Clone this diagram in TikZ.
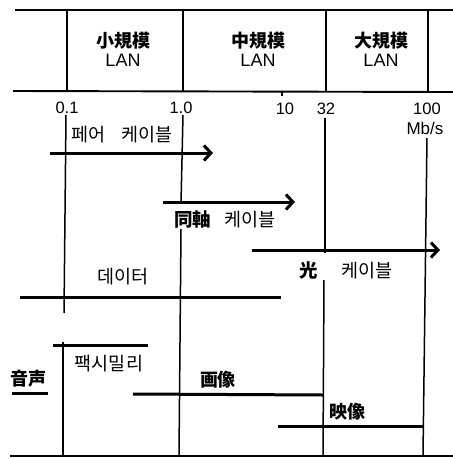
\documentclass[tikz,border=0pt]{standalone}
\usepackage{fontspec}
\setmainfont{Liberation Sans}
\newfontfamily\kr{Noto Sans CJK KR}
\newfontfamily\jp{Noto Sans CJK JP}
\usetikzlibrary{arrows.meta}

\begin{document}
\begin{tikzpicture}[x=1pt,y=-1pt,
		rule/.style={line width=1.5pt},
		frame/.style={line width=1.9pt},
		band/.style={line width=3pt},
		cable/.style={band,-{Straight Barb[length=7pt,width=15pt]}},
		num/.style={font=\fontsize{16.5}{18}\selectfont},
		kana/.style={font=\fontsize{18.5}{20}\selectfont\kr},
		kanji/.style={font=\fontsize{18}{20}\selectfont\jp\bfseries}]
	\useasboundingbox (0,0) rectangle (453,459);

	% LAN header
	\draw [frame] (15,10) to (453,10);
	\draw [frame] (13,91) to (453,92);
	\foreach \x in {67,183,326,428}
		\draw [rule] (\x,10) to (\x,91);
	\node [align=center,font=\fontsize{18}{19}\selectfont] (small) at (123,49) {{\jp\bfseries 小規模}\\LAN};
	\node [align=center,font=\fontsize{18}{19}\selectfont] (medium) at (258,49) {{\jp\bfseries 中規模}\\LAN};
	\node [align=center,font=\fontsize{18}{19}\selectfont] (large) at (381,49) {{\jp\bfseries 大規模}\\LAN};

	% speed axis
	\draw [rule] (282,91) to (282,96);
	\node [num] (r01) at (67,108) {0.1};
	\node [num] (r1) at (181,108) {1.0};
	\node [num] (r10) at (285,109) {10};
	\node [num] (r32) at (326,109) {32};
	\node [num] (r100) at (427,109) {100};
	\node [font=\fontsize{17}{19}\selectfont] (unit) at (425,128) {Mb/s};

	\draw [rule] (66,115) to (64,313);
	\draw [rule] (63,342) to (63,456);
	\draw [rule] (183,115) to (181,203);
	\draw [rule] (181,229) to (179,456);
	\draw [rule] (325,118) to (325,253);
	\draw [rule] (324,280) to (323,456);
	\draw [rule] (427,138) to (423,456);
	\draw [frame] (10,456) to (453,456);

	% cables
	\draw [cable] (50,153) to (213,153);
	\node [kana] (pair) at (122,135) {페어\hspace{0.9em}케이블};
	\draw [cable] (163,202) to (295,202);
	\node [kana] (coax) at (225,219) {{\jp\bfseries 同軸}\hspace{0.7em}케이블};
	\draw [cable] (252,250) to (440,250);
	\node [kana] (fiber) at (346,270) {{\jp\bfseries 光}\hspace{1.3em}케이블};

	% services
	\draw [band] (20,297) to (281,297);
	\node [kana] (data) at (123,277) {데이터};
	\draw [band] (53,345) to (148,345);
	\node [kana] (fax) at (109,364) {팩시밀리};
	\draw [band] (12,393) to (48,393);
	\node [kanji] (voice) at (29,379) {音声};
	\draw [band] (133,394) to (323,395);
	\node [kanji] (image) at (218,380) {画像};
	\draw [band] (278,426) to (423,426);
	\node [kanji] (video) at (347,412) {映像};
\end{tikzpicture}
\end{document}
